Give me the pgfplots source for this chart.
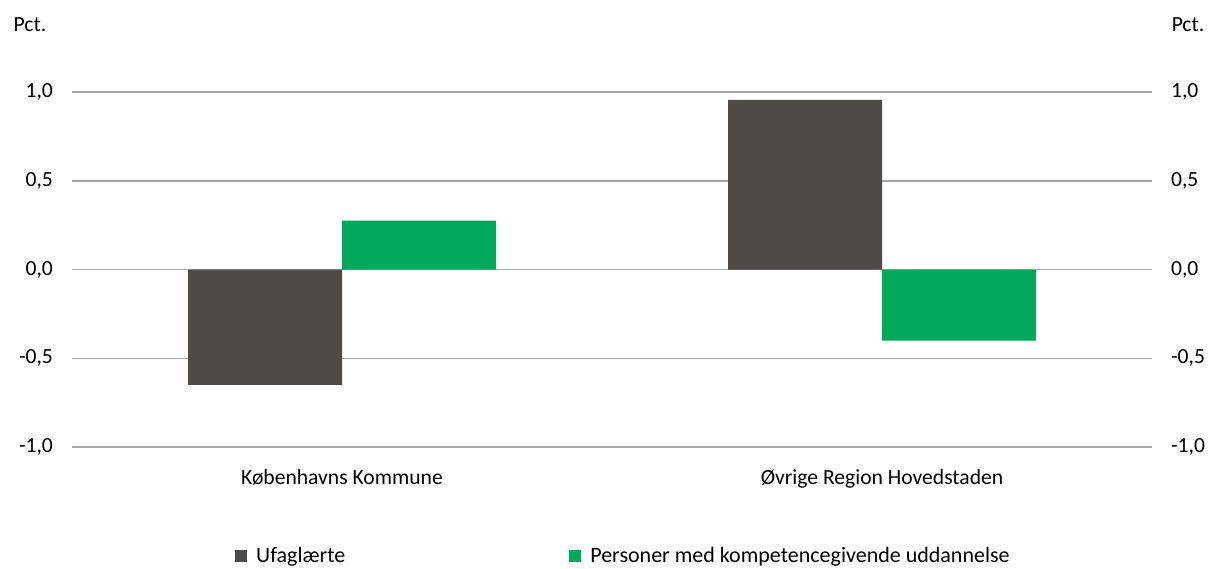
\documentclass[border=0pt]{standalone}
\usepackage{pgfplots}
\pgfplotsset{compat=1.18}
\usepackage{fontspec}
\setmainfont{Carlito}
\definecolor{barGrey}{HTML}{4E4A46}
\definecolor{barGreen}{HTML}{00A859}
\definecolor{gridGrey}{HTML}{A6A6A6}
\begin{document}
\begin{tikzpicture}[x=1pt,y=1pt]
\useasboundingbox (0,0) rectangle (609.5,284);
\pgfplotsset{
  base/.style={
    scale only axis, width=540pt, height=177.5pt,
    at={(36pt,60.5pt)}, anchor=south west,
    xmin=-0.5, xmax=1.5, ymin=-1, ymax=1,
    ytick={-1,-0.5,0,0.5,1},
    yticklabels={{-1,0},{-0,5},{0,0},{0,5},{1,0}},
    axis line style={draw=none},
    major tick length=0pt,
    tick label style={font=\fontsize{10.8}{13}\selectfont},
  }
}
\begin{axis}[base,
  ybar=0pt, bar width=0.285,
  xtick=data, xticklabels={Københavns Kommune, Øvrige Region Hovedstaden},
  xticklabel style={yshift=-7.5pt},
  yticklabel style={xshift=-6pt},
  ymajorgrids, grid style={gridGrey, line width=0.75pt},
  legend columns=2,
  legend style={at={(0.5115,-0.307)}, anchor=center, draw=none, fill=none,
    font=\fontsize{11}{13}\selectfont,
    /tikz/every even column/.append style={column sep=110pt}},
  legend image code/.code={\fill[#1] (0pt,-3pt) rectangle (6pt,3pt); \path (8.5pt,0pt);},
]
\addplot[fill=barGrey, draw=none] coordinates {(0,-0.65) (1,0.955)};
\addplot[fill=barGreen, draw=none] coordinates {(0,0.275) (1,-0.40)};
\legend{Ufaglærte, Personer med kompetencegivende uddannelse}
\end{axis}
\begin{axis}[base, xtick=\empty, yticklabel pos=right,
  yticklabel style={xshift=6pt}]
\addplot[draw=none] coordinates {(0,0)};
\end{axis}
\node[font=\fontsize{10.8}{13}\selectfont] at (15,271.5) {Pct.};
\node[font=\fontsize{10.8}{13}\selectfont] at (594,271.5) {Pct.};
\end{tikzpicture}
\end{document}
